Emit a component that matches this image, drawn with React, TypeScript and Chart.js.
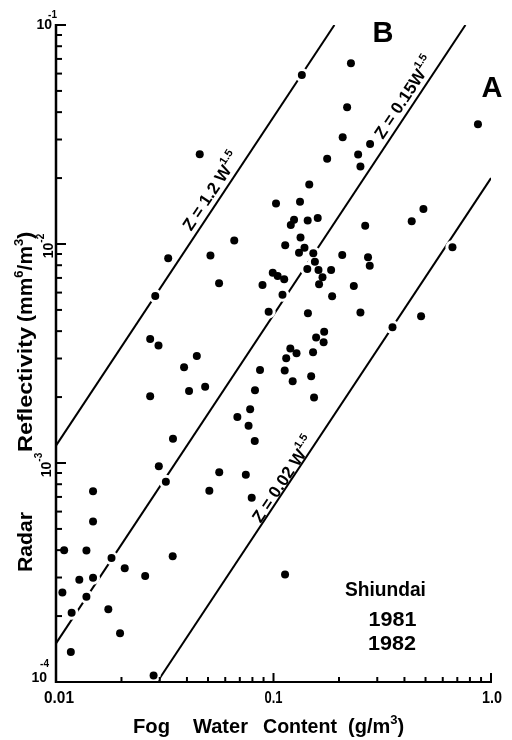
import React, { useEffect, useRef } from 'react';
import { Chart, registerables } from 'chart.js';

Chart.register(...registerables);

// Fog water content W (g/m^3) and radar reflectivity Z (mm^6/m^3), Shiundai 1981-1982
const fogWater = [
  0.0148, 0.0109, 0.0138, 0.018, 0.0344, 0.0207, 0.0257, 0.0128, 0.0148, 0.0107,
  0.0138, 0.0174, 0.0118, 0.0197, 0.0117, 0.0281, 0.0271, 0.0296, 0.0444, 0.0388,
  0.0271, 0.0409, 0.0485, 0.0345, 0.0297, 0.032, 0.0148, 0.0507, 0.0458, 0.0328,
  0.0513, 0.0286, 0.1765, 0.245, 0.251, 0.146, 0.1027, 0.1324, 0.1243, 0.1201,
  0.1436, 0.1597, 0.066, 0.1331, 0.1132, 0.1388, 0.131, 0.1524, 0.207, 0.155,
  0.143, 0.161, 0.184, 0.168, 0.0992, 0.1045, 0.112, 0.0562, 0.089, 0.162,
  0.234, 0.11, 0.186, 0.095, 0.144, 0.251, 0.171, 0.157, 0.17, 0.1195,
  0.1276, 0.1144, 0.152, 0.0867, 0.1126, 0.1225, 0.149, 0.0822, 0.1536, 0.0781,
  0.0682, 0.0768, 0.082, 0.0563, 0.0746, 0.0794, 0.218, 0.871, 0.208, 0.278,
  0.489, 0.432, 0.264, 0.272, 0.277, 0.665, 0.477, 0.3525, 0.135, 0.227,
  0.113,
];
const reflectivity = [
  5.41e-4, 4.0e-4, 3.99e-4, 3.68e-4, 3.75e-4, 3.31e-4, 3.05e-4, 2.93e-4, 2.99e-4, 2.56e-4,
  2.45e-4, 2.15e-4, 2.07e-4, 1.67e-4, 1.37e-4, 1.07e-4, 3.68e-3, 3.44e-3, 3.08e-3, 2.74e-3,
  2.02e-3, 2.13e-3, 2.23e-3, 1.29e-3, 9.66e-4, 8.21e-4, 7.43e-4, 7.46e-4, 0.0257, 8.6e-3,
  8.86e-3, 5.79e-3, 0.0245, 0.0256, 0.0226, 0.0187, 0.0153, 0.0156, 0.0129, 0.0122,
  0.0128, 0.01315, 0.01037, 0.0107, 9.87e-3, 9.62e-3, 9.13e-3, 9.07e-3, 8.91e-3, 8.3e-3,
  7.69e-3, 7.61e-3, 7.6e-3, 7.05e-3, 7.4e-3, 7.14e-3, 6.91e-3, 6.62e-3, 6.49e-3, 6.55e-3,
  6.43e-3, 5.86e-3, 5.78e-3, 4.91e-3, 4.83e-3, 4.87e-3, 3.97e-3, 3.74e-3, 3.56e-3, 3.33e-3,
  3.17e-3, 3.01e-3, 3.2e-3, 2.66e-3, 2.645e-3, 2.36e-3, 2.49e-3, 2.15e-3, 1.99e-3, 1.76e-3,
  1.62e-3, 1.48e-3, 1.26e-3, 9.08e-4, 8.83e-4, 6.94e-4, 0.0421, 0.0352, 0.0307, 0.0286,
  0.01445, 0.0127, 0.0121, 8.69e-3, 7.96e-3, 9.66e-3, 4.68e-3, 4.17e-3, 0.0591, 0.0668,
  3.1e-4,
];

// Reference lines Z = c W^1.5 (end points)
const lineBW = [0.01, 0.1906];
const lineBZ = [0.0012, 0.1];
const lineMidW = [0.01, 0.763];
const lineMidZ = [0.00015, 0.1];
const lineAW = [0.0292, 1.0];
const lineAZ = [0.0001, 0.02];

const xTickValues = [0.01, 0.1, 1.0];
const xTickLabels = ['0.01', '0.1', '1.0'];
const yTickValues = [0.1, 0.01, 0.001, 0.0001];
const yTickExponents = ['-1', '-2', '-3', '-4'];

const FONT = "'Liberation Sans', Arial, sans-serif";

const points = fogWater.map((w, i) => ({ x: w, y: reflectivity[i] }));
const toPts = (xs: number[], ys: number[]) => xs.map((x, i) => ({ x, y: ys[i] }));

function fitText(ctx: CanvasRenderingContext2D, text: string, x: number, y: number, w: number) {
  const m = ctx.measureText(text).width;
  ctx.save();
  ctx.translate(x, y);
  ctx.scale(w / m, 1);
  ctx.fillText(text, 0, 0);
  ctx.restore();
}

type Part = [string, boolean];
function drawParts(
  ctx: CanvasRenderingContext2D,
  parts: Part[],
  x: number,
  y: number,
  angle: number,
  base: string,
  sup: string,
  raise: number,
  align: 'center' | 'left' | 'right'
) {
  ctx.save();
  ctx.translate(x, y);
  ctx.rotate(angle);
  ctx.textAlign = 'left';
  let total = 0;
  const widths = parts.map(([t, s]) => {
    ctx.font = s ? sup : base;
    const w = ctx.measureText(t).width;
    total += w;
    return w;
  });
  let cur = align === 'center' ? -total / 2 : align === 'right' ? -total : 0;
  parts.forEach(([t, s], i) => {
    ctx.font = s ? sup : base;
    ctx.fillText(t, cur, s ? -raise : 0);
    cur += widths[i];
  });
  ctx.restore();
}

const framePlugin = {
  id: 'frame',
  afterDatasetsDraw(chart: any) {
    const ctx: CanvasRenderingContext2D = chart.ctx;
    const xs = chart.scales.x;
    const ys = chart.scales.y;
    const px = (v: number) => xs.getPixelForValue(v);
    const py = (v: number) => ys.getPixelForValue(v);
    const x0 = px(0.01);
    const x1 = px(1.0);
    const yb = py(1e-4);
    const yt = py(0.1);
    ctx.save();
    ctx.strokeStyle = '#000';
    ctx.fillStyle = '#000';
    ctx.lineCap = 'butt';

    // axes
    ctx.lineWidth = 2.5;
    ctx.beginPath();
    ctx.moveTo(x0, yt - 1);
    ctx.lineTo(x0, yb + 1);
    ctx.stroke();
    ctx.lineWidth = 2;
    ctx.beginPath();
    ctx.moveTo(x0 - 1, yb);
    ctx.lineTo(x1 + 1, yb);
    ctx.stroke();

    // y ticks (inside, to the right)
    ctx.lineWidth = 2;
    yTickValues.forEach((v) => {
      const y = py(v);
      ctx.beginPath();
      ctx.moveTo(x0, y);
      ctx.lineTo(x0 + 10, y);
      ctx.stroke();
    });
    [1e-4, 1e-3, 1e-2].forEach((d) => {
      for (let k = 2; k <= 9; k++) {
        const y = py(d * k);
        ctx.beginPath();
        ctx.moveTo(x0, y);
        ctx.lineTo(x0 + 6, y);
        ctx.stroke();
      }
    });
    // x ticks (inside, upward)
    xTickValues.forEach((v) => {
      const x = px(v);
      ctx.beginPath();
      ctx.moveTo(x, yb);
      ctx.lineTo(x, yb - 9);
      ctx.stroke();
    });
    [0.01, 0.1].forEach((d) => {
      for (let k = 2; k <= 9; k++) {
        const x = px(d * k);
        ctx.beginPath();
        ctx.moveTo(x, yb);
        ctx.lineTo(x, yb - 5);
        ctx.stroke();
      }
    });

    // x tick labels
    ctx.textBaseline = 'alphabetic';
    ctx.textAlign = 'center';
    ctx.font = `bold 17px ${FONT}`;
    const xLabelW = [30, 18, 20];
    xTickValues.forEach((v, i) => {
      fitText(ctx, xTickLabels[i], px(v) + (i === 0 ? 3 : i === 2 ? 1 : 0), yb + 21, xLabelW[i]);
    });

    // y tick labels
    const base = `bold 14px ${FONT}`;
    const sup = `bold 10px ${FONT}`;
    // 10^-1 horizontal
    ctx.font = base;
    ctx.textAlign = 'right';
    ctx.fillText('10', x0 - 4, py(0.1) + 4);
    ctx.font = sup;
    ctx.fillText(yTickExponents[0], x0 + 1, py(0.1) - 7);
    // 10^-2 and 10^-3 rotated
    drawParts(ctx, [['10', false], [yTickExponents[1], true]], x0 - 3, py(0.01) + 2, -Math.PI / 2, base, sup, 9, 'center');
    drawParts(ctx, [['10', false], [yTickExponents[2], true]], x0 - 5, py(0.001) + 2, -Math.PI / 2, base, sup, 9, 'center');
    // 10^-4 horizontal
    ctx.font = base;
    ctx.textAlign = 'right';
    ctx.fillText('10', x0 - 9, py(1e-4));
    ctx.font = sup;
    ctx.fillText(yTickExponents[3], x0 - 7, py(1e-4) - 15);

    // axis titles
    ctx.font = `bold 20px ${FONT}`;
    ctx.textAlign = 'center';
    const ty = yb + 51;
    fitText(ctx, 'Fog', 151.5, ty, 37);
    fitText(ctx, 'Water', 220.5, ty, 55);
    fitText(ctx, 'Content', 300, ty, 74);
    drawParts(ctx, [['(g/m', false], ['3', true], [')', false]], 348, ty, 0, `bold 20px ${FONT}`, `bold 13px ${FONT}`, 9, 'left');

    // y title (rotated)
    ctx.save();
    ctx.translate(32, 0);
    ctx.rotate(-Math.PI / 2);
    ctx.font = `bold 21px ${FONT}`;
    ctx.textAlign = 'center';
    fitText(ctx, 'Radar', -542, 0, 60);
    fitText(ctx, 'Reflectivity', -389.5, 0, 125);
    ctx.restore();
    drawParts(ctx, [['(mm', false], ['6', true], ['/m', false], ['3', true], [')', false]], 32, 322, -Math.PI / 2, `bold 21px ${FONT}`, `bold 13px ${FONT}`, 9, 'left');

    // line labels
    const lineAngle = Math.atan2(py(lineBZ[1]) - py(lineBZ[0]), px(lineBW[1]) - px(lineBW[0]));
    ctx.textBaseline = 'middle';
    const lf = `bold 17px ${FONT}`;
    const ls = `bold 11px ${FONT}`;
    drawParts(ctx, [['Z = 1.2 W', false], ['1.5', true]], px(0.0521), py(0.01728), lineAngle, lf, ls, 7, 'center');
    drawParts(ctx, [['Z = 0.15W', false], ['1.5', true]], px(0.4024), py(0.0464), lineAngle, lf, ls, 7, 'center');
    drawParts(ctx, [['Z = 0.02 W', false], ['1.5', true]], px(0.1118), py(8.36e-4), lineAngle, lf, ls, 7, 'center');

    // region letters
    ctx.textBaseline = 'alphabetic';
    ctx.textAlign = 'center';
    ctx.font = `bold 29px ${FONT}`;
    ctx.fillText('B', px(0.3187), py(0.0939) + 11);
    ctx.fillText('A', px(1.01), py(0.0527) + 11);

    // station text
    ctx.textBaseline = 'middle';
    ctx.font = `bold 20px ${FONT}`;
    const sx = px(0.327);
    const sy = py(2.63e-4);
    fitText(ctx, 'Shiundai', sx, sy, 81);
    fitText(ctx, '1981', sx + 7, sy + 30.5, 48);
    fitText(ctx, '1982', sx + 6.5, sy + 54, 48);

    ctx.restore();
  },
};

export default function App() {
  const ref = useRef<HTMLCanvasElement>(null);
  useEffect(() => {
    if (!ref.current) return;
    const chart = new Chart(ref.current, {
      type: 'scatter',
      data: {
        datasets: [
          {
            label: 'data',
            data: points,
            pointRadius: 4,
            pointBackgroundColor: '#000',
            pointBorderWidth: 0,
            order: 1,
          },
          {
            label: 'halo',
            data: points,
            pointRadius: 7,
            pointBackgroundColor: '#fff',
            pointBorderWidth: 0,
            order: 2,
          },
          {
            label: 'Z=1.2W^1.5',
            type: 'line',
            data: toPts(lineBW, lineBZ),
            borderColor: '#000',
            borderWidth: 2,
            pointRadius: 0,
            order: 3,
          },
          {
            label: 'Z=0.15W^1.5',
            type: 'line',
            data: toPts(lineMidW, lineMidZ),
            borderColor: '#000',
            borderWidth: 2,
            pointRadius: 0,
            order: 3,
          },
          {
            label: 'Z=0.02W^1.5',
            type: 'line',
            data: toPts(lineAW, lineAZ),
            borderColor: '#000',
            borderWidth: 2,
            pointRadius: 0,
            order: 3,
          },
        ],
      } as any,
      options: {
        animation: false,
        responsive: false,
        layout: { padding: { left: 56, right: 21, top: 25, bottom: 58 } },
        scales: {
          x: { type: 'logarithmic', min: 0.01, max: 1, display: false },
          y: { type: 'logarithmic', min: 0.0001, max: 0.1, display: false },
        },
        plugins: { legend: { display: false }, tooltip: { enabled: false } },
      },
      plugins: [framePlugin],
    });
    return () => chart.destroy();
  }, []);
  return (
    <div style={{ position: 'fixed', left: 0, top: 0, width: 512, height: 740, background: '#fff' }}>
      <canvas ref={ref} width={512} height={740} style={{ display: 'block', width: 512, height: 740 }} />
    </div>
  );
}
